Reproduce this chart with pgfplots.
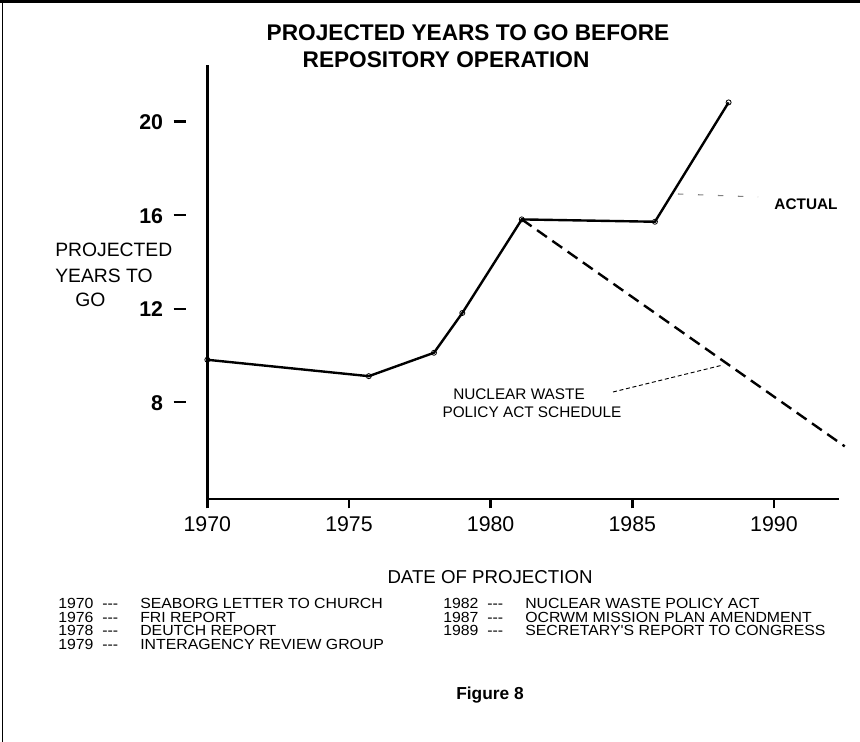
\documentclass[border=0pt]{standalone}
\usepackage{pgfplots}
\pgfplotsset{compat=1.18}
\usepackage{fontspec}
\setmainfont{Liberation Sans}
\newfontfamily\legfont[FakeStretch=1.08]{Liberation Sans}
\newcommand{\lrow}[2]{\makebox[33pt][l]{#1}\makebox[28.5pt][l]{-{}-{}-}#2}
\begin{document}
\begin{tikzpicture}
\useasboundingbox (0,0) rectangle (645pt,556.5pt);
\draw[line width=1.2pt] (2pt,0) -- (2pt,555pt);
\draw[line width=1.8pt] (0,555.3pt) -- (645pt,555.3pt);
\begin{axis}[
  at={(155.5pt,182.25pt)}, anchor=south west,
  scale only axis, width=473.8pt, height=325.5pt,
  xmin=1970, xmax=1992.3, ymin=3.9, ymax=22.45,
  axis x line*=bottom, axis y line*=left,
  axis line style={line width=2.2pt},
  clip=false,
  xtick={1970,1975,1980,1985,1990},
  xticklabels={1970,1975,1980,1985,1990},
  x tick style={line width=2pt, black},
  tick align=outside, major tick length=7pt,
  xticklabel style={font=\fontsize{16}{16}\selectfont, yshift=-3pt},
  ytick={8,12,16,20},
  yticklabels={{\textbf{8}\hspace{8pt}\rule[0.33em]{9pt}{1.6pt}},
               {\textbf{12}\hspace{8pt}\rule[0.33em]{9pt}{1.6pt}},
               {\textbf{16}\hspace{8pt}\rule[0.33em]{9pt}{1.6pt}},
               {\textbf{20}\hspace{8pt}\rule[0.33em]{9pt}{1.6pt}}},
  y tick style={draw=none},
  yticklabel style={font=\fontsize{16}{16}\selectfont, anchor=east, inner sep=0pt, xshift=-9pt},
]
% Actual projections
\addplot[black, line width=1.8pt, mark=o, mark size=1.9pt,
  mark options={line width=0.6pt, fill=white, solid}]
  coordinates {(1970,9.85) (1975.7,9.15) (1978,10.15) (1979,11.85) (1981.1,15.85) (1985.8,15.75) (1988.4,20.85)};
% Nuclear Waste Policy Act schedule
\addplot[black, line width=1.8pt, dash pattern=on 9pt off 5pt]
  coordinates {(1981.1,15.85) (1992.5,6.15)};
\end{axis}
\begin{scope}[x=0.75pt, y=-0.75pt, shift={(0pt,556.5pt)}]
\node[font=\bfseries\fontsize{17}{17}\selectfont] at (468,33) {PROJECTED YEARS TO GO BEFORE};
\node[font=\bfseries\fontsize{17}{17}\selectfont] at (446,60) {REPOSITORY OPERATION};
\node[anchor=west, inner sep=0pt, font=\fontsize{14.5}{14.5}\selectfont] at (55,250) {PROJECTED};
\node[anchor=west, inner sep=0pt, font=\fontsize{14.5}{14.5}\selectfont] at (55,276) {YEARS TO};
\node[anchor=west, inner sep=0pt, font=\fontsize{14.5}{14.5}\selectfont] at (75,300) {GO};
\draw[gray, line width=0.8pt, dash pattern=on 4pt off 11pt] (678,194) -- (758,197);
\node[font=\bfseries\fontsize{11.5}{11.5}\selectfont] at (806,204) {ACTUAL};
\draw[black, line width=0.7pt, dash pattern=on 3pt off 2pt] (613,392) -- (723,365);
\node[font=\fontsize{11.5}{11.5}\selectfont] at (519,394) {NUCLEAR WASTE};
\node[font=\fontsize{11.5}{11.5}\selectfont] at (532,412) {POLICY ACT SCHEDULE};
\node[font=\fontsize{14}{14}\selectfont] at (490,577) {DATE OF PROJECTION};
\node[anchor=north west, inner sep=0pt, align=left, font=\legfont\fontsize{11}{10.3}\selectfont] at (58,598)
  {\lrow{1970}{SEABORG LETTER TO CHURCH}\\
   \lrow{1976}{FRI REPORT}\\
   \lrow{1978}{DEUTCH REPORT}\\
   \lrow{1979}{INTERAGENCY REVIEW GROUP}};
\node[anchor=north west, inner sep=0pt, align=left, font=\legfont\fontsize{11}{10.3}\selectfont] at (443,598)
  {\lrow{1982}{NUCLEAR WASTE POLICY ACT}\\
   \lrow{1987}{OCRWM MISSION PLAN AMENDMENT}\\
   \lrow{1989}{SECRETARY'S REPORT TO CONGRESS}};
\node[font=\bfseries\fontsize{13}{13}\selectfont] at (490,695) {Figure 8};
\end{scope}
\end{tikzpicture}
\end{document}
